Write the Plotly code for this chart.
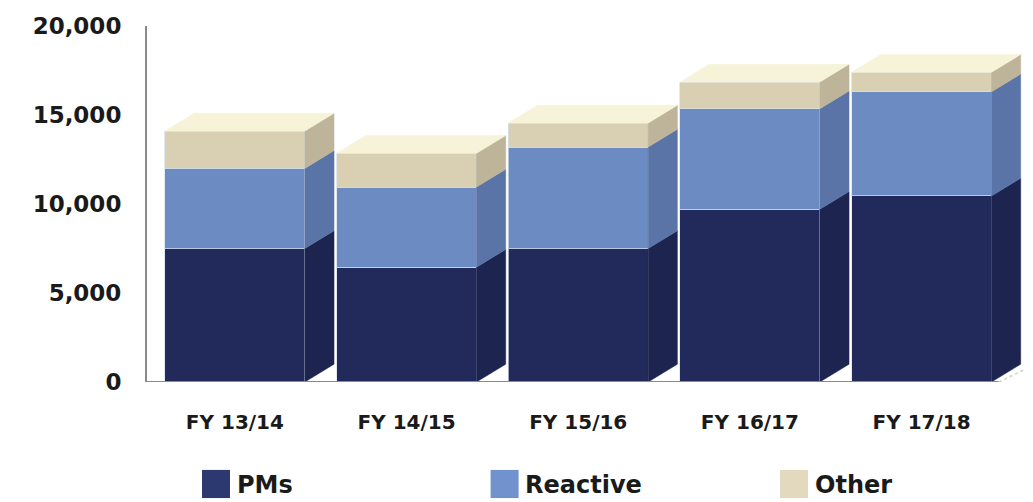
import plotly.graph_objects as go

categories = ["FY 13/14", "FY 14/15", "FY 15/16", "FY 16/17", "FY 17/18"]
pms = [7500, 6450, 7500, 9700, 10450]
reactive = [4500, 4500, 5700, 5650, 5850]
other = [2100, 1900, 1350, 1500, 1100]
series_names = ["PMs", "Reactive", "Other"]
y_ticks = [0, 5000, 10000, 15000, 20000]

front_colors = ["#212A5B", "#6C8BC3", "#D9D0B4"]
side_colors = ["#1C244F", "#5A74A7", "#BDB499"]
top_color = "#F6F3D9"
legend_colors = ["#2C3870", "#7292CE", "#E2D9BF"]

BAR_W = 0.815
DX = 0.17     # depth offset in category units
DY = 1000     # depth offset in value units

FONT = "DejaVu Sans"
fig = go.Figure()

xs = list(range(len(categories)))
series = [pms, reactive, other]

# front faces (stacked bars)
for name, vals, col in zip(series_names, series, front_colors):
    fig.add_trace(go.Bar(
        x=xs, y=vals, name=name, width=BAR_W,
        marker=dict(color=col, line=dict(color="rgba(215,225,232,0.7)", width=1)),
        showlegend=False, hoverinfo="skip"))

# side faces
base = [0] * len(xs)
for vals, scol in zip(series, side_colors):
    px, py = [], []
    for i, x in enumerate(xs):
        xr = x + BAR_W / 2
        b = base[i]
        t = b + vals[i]
        px += [xr, xr + DX, xr + DX, xr, xr, None]
        py += [b, b + DY, t + DY, t, b, None]
    fig.add_trace(go.Scatter(x=px, y=py, mode="lines", fill="toself",
                             fillcolor=scol, line=dict(width=0.5, color=scol),
                             showlegend=False, hoverinfo="skip"))
    base = [base[i] + vals[i] for i in range(len(xs))]

# top faces
px, py = [], []
for i, x in enumerate(xs):
    xl = x - BAR_W / 2
    xr = x + BAR_W / 2
    T = base[i]
    px += [xl, xl + DX, xr + DX, xr, xl, None]
    py += [T, T + DY, T + DY, T, T, None]
fig.add_trace(go.Scatter(x=px, y=py, mode="lines", fill="toself",
                         fillcolor=top_color, line=dict(width=0.5, color=top_color),
                         showlegend=False, hoverinfo="skip"))

# x axis line with floor extension
fig.add_shape(type="line", xref="x", yref="y", x0=-0.512, x1=4.45, y0=0, y1=0,
              line=dict(color="#8a8a8a", width=2))
fig.add_shape(type="line", xref="x", yref="y", x0=4.45, x1=4.6, y0=0, y1=700,
              line=dict(color="#cfcfcf", width=1.5, dash="dot"))

# manual legend (paper coords relative to plot area)
leg_x = [0.0624, 0.390, 0.7185]
for name, col, lx in zip(series_names, legend_colors, leg_x):
    fig.add_shape(type="rect", xref="paper", yref="paper",
                  x0=lx, x1=lx + 0.0318, y0=-0.326, y1=-0.247,
                  fillcolor=col, line=dict(width=0))
    fig.add_annotation(xref="paper", yref="paper", x=lx + 0.0395, y=-0.289,
                       text=name, showarrow=False, xanchor="left", yanchor="middle",
                       xshift=-2,
                       font=dict(family=FONT, size=24, color="#1a1a1a", weight="bold"))

fig.update_layout(
    width=1033, height=502,
    margin=dict(l=147, r=5, t=26, b=120),
    paper_bgcolor="white", plot_bgcolor="white",
    barmode="stack", showlegend=False,
    xaxis=dict(range=[-0.512, 4.62], tickvals=xs, ticktext=categories,
               showline=False, showgrid=False, zeroline=False, ticks="",
               ticklabelstandoff=26,
               tickfont=dict(family=FONT, size=20, color="#1a1a1a", weight="bold")),
    yaxis=dict(range=[0, 20000], tickvals=y_ticks, tickformat=",",
               showline=True, linecolor="#8a8a8a", linewidth=2,
               showgrid=False, zeroline=False, ticks="", ticklabelstandoff=19,
               tickfont=dict(family=FONT, size=23, color="#1a1a1a", weight="bold")),
)

fig.write_html("out.html")
